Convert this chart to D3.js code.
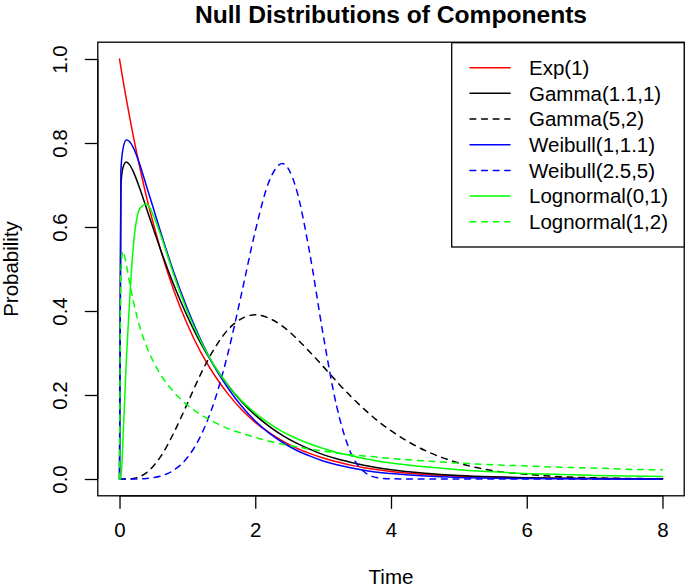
<!DOCTYPE html>
<html>
<head>
<meta charset="utf-8">
<script src="https://cdn.jsdelivr.net/npm/d3@7"></script>
<style>
html,body{margin:0;padding:0;background:#fff;}
svg text{font-family:"Liberation Sans",Arial,Helvetica,sans-serif;fill:#000;}
</style>
</head>
<body>
<svg id="chart" width="685" height="587"></svg>
<script>
// ---- data ----
const xValues      = [0, 0.02, 0.05, 0.1, 0.15, 0.2, 0.3, 0.4, 0.5, 0.6, 0.8, 1.0, 1.2, 1.4, 1.6, 1.8, 2.0, 2.2, 2.4, 2.6, 2.8, 3.0, 3.2, 3.4, 3.6, 3.8, 4.0, 4.5, 5.0, 5.5, 6.0, 6.5, 7.0, 7.5, 8.0];
const expVals      = [1.000, 0.980, 0.951, 0.905, 0.861, 0.819, 0.741, 0.670, 0.607, 0.549, 0.449, 0.368, 0.301, 0.247, 0.202, 0.165, 0.135, 0.111, 0.091, 0.074, 0.061, 0.050, 0.041, 0.033, 0.027, 0.022, 0.018, 0.011, 0.0067, 0.0041, 0.0025, 0.0015, 0.0009, 0.0006, 0.0003];
const gammaVals    = [0, 0.697, 0.741, 0.755, 0.748, 0.733, 0.691, 0.643, 0.595, 0.548, 0.462, 0.387, 0.322, 0.268, 0.223, 0.184, 0.152, 0.126, 0.104, 0.086, 0.071, 0.058, 0.048, 0.040, 0.033, 0.027, 0.022, 0.0136, 0.0083, 0.0051, 0.0031, 0.0019, 0.0012, 0.0007, 0.0004];
const gamma52Vals  = [0, 0, 0, 0.0001, 0.0004, 0.0014, 0.0059, 0.0153, 0.031, 0.052, 0.110, 0.180, 0.251, 0.311, 0.356, 0.382, 0.391, 0.383, 0.364, 0.336, 0.303, 0.268, 0.232, 0.198, 0.167, 0.139, 0.115, 0.068, 0.038, 0.020, 0.011, 0.0054, 0.0027, 0.0013, 0.0006];
const weibullVals  = [0, 0.734, 0.785, 0.807, 0.803, 0.790, 0.748, 0.696, 0.644, 0.591, 0.492, 0.405, 0.330, 0.267, 0.216, 0.173, 0.138, 0.110, 0.0875, 0.069, 0.055, 0.043, 0.034, 0.027, 0.021, 0.016, 0.013, 0.0069, 0.0036, 0.0019, 0.0010, 0.0005, 0.0003, 0.0001, 0.0001];
const weibull2Vals = [0, 0, 0, 0, 0, 0.0001, 0.0003, 0.0013, 0.0032, 0.0066, 0.021, 0.051, 0.104, 0.186, 0.301, 0.443, 0.590, 0.707, 0.751, 0.693, 0.540, 0.344, 0.173, 0.065, 0.018, 0.0032, 0.0004, 0, 0, 0, 0, 0, 0, 0, 0];
const lnorm01Vals  = [0, 0, 0.089, 0.282, 0.430, 0.547, 0.644, 0.655, 0.627, 0.584, 0.486, 0.399, 0.327, 0.269, 0.223, 0.186, 0.157, 0.133, 0.113, 0.097, 0.084, 0.073, 0.063, 0.056, 0.049, 0.043, 0.038, 0.029, 0.022, 0.017, 0.013, 0.011, 0.0086, 0.0070, 0.0057];
const lnorm12Vals  = [0, 0.489, 0.542, 0.510, 0.466, 0.426, 0.362, 0.315, 0.279, 0.250, 0.207, 0.176, 0.153, 0.135, 0.120, 0.109, 0.099, 0.090, 0.083, 0.077, 0.071, 0.067, 0.062, 0.058, 0.055, 0.052, 0.049, 0.043, 0.038, 0.034, 0.031, 0.028, 0.026, 0.023, 0.022];

const seriesNames  = ["Exp(1)", "Gamma(1.1,1)", "Gamma(5,2)", "Weibull(1,1.1)", "Weibull(2.5,5)", "Lognormal(0,1)", "Lognormal(1,2)"];
const seriesValues = [expVals, gammaVals, gamma52Vals, weibullVals, weibull2Vals, lnorm01Vals, lnorm12Vals];
const seriesColors = ["#FF0000", "#000000", "#000000", "#0000FF", "#0000FF", "#00FF00", "#00FF00"];
const seriesDashed = [false, false, true, false, true, false, true];

const xTicks = [0, 2, 4, 6, 8];
const yTicks = [0, 0.2, 0.4, 0.6, 0.8, 1.0];
const yTickLabels = ["0.0", "0.2", "0.4", "0.6", "0.8", "1.0"];

// ---- layout ----
const svg = d3.select("#chart");
const box = {left: 97.8, right: 684.2, top: 42.2, bottom: 495.8};
const x = d3.scaleLinear().domain([-0.32, 8.32]).range([box.left, box.right]);
const y = d3.scaleLinear().domain([-0.04, 1.04]).range([box.bottom, box.top]);
const fs = 20.5;
const lw = 1.5;

// curves
const line = d3.line()
  .x((d, i) => x(xValues[i]))
  .y(d => y(d))
  .curve(d3.curveMonotoneX);

seriesValues.forEach((vals, k) => {
  svg.append("path")
    .attr("d", line(vals))
    .attr("fill", "none")
    .attr("stroke", seriesColors[k])
    .attr("stroke-width", lw)
    .attr("stroke-linecap", "round")
    .attr("stroke-linejoin", "round")
    .attr("stroke-dasharray", seriesDashed[k] ? "5.8,5.8" : null);
});

// plot box
svg.append("rect")
  .attr("x", box.left).attr("y", box.top)
  .attr("width", box.right - box.left).attr("height", box.bottom - box.top)
  .attr("fill", "none").attr("stroke", "#000").attr("stroke-width", 1.3);

// x axis
const xAxis = d3.axisBottom(x).tickValues(xTicks).tickSize(13).tickPadding(14).tickFormat(d3.format("d"));
const gx = svg.append("g").attr("transform", `translate(0,${box.bottom})`).call(xAxis);
gx.select(".domain").attr("d", `M${x(0)},0H${x(8)}`).attr("stroke-width", 1.3);
gx.selectAll(".tick line").attr("stroke-width", 1.3);
gx.selectAll(".tick text").attr("font-size", fs).attr("font-family", "Liberation Sans, Arial, sans-serif");

// y axis
const yAxis = d3.axisLeft(y).tickValues(yTicks).tickSize(13).tickFormat((d, i) => yTickLabels[i]);
const gy = svg.append("g").attr("transform", `translate(${box.left},0)`).call(yAxis);
gy.select(".domain").attr("d", `M0,${y(0)}V${y(1)}`).attr("stroke-width", 1.3);
gy.selectAll(".tick line").attr("stroke-width", 1.3);
gy.selectAll(".tick text")
  .attr("font-size", fs)
  .attr("font-family", "Liberation Sans, Arial, sans-serif")
  .attr("x", null).attr("dy", null)
  .attr("text-anchor", "middle")
  .attr("transform", "translate(-30.5,0) rotate(-90)");

// title and axis labels
svg.append("text").attr("x", (box.left + box.right) / 2).attr("y", 23)
  .attr("text-anchor", "middle").attr("font-size", 24.6).attr("font-weight", "bold")
  .text("Null Distributions of Components");
svg.append("text").attr("x", (box.left + box.right) / 2).attr("y", 584)
  .attr("text-anchor", "middle").attr("font-size", fs).text("Time");
svg.append("text").attr("transform", `translate(18,${(box.top + box.bottom) / 2}) rotate(-90)`)
  .attr("text-anchor", "middle").attr("font-size", fs).text("Probability");

// legend
const leg = {left: 451.7, top: 42.7, bottom: 247, row0: 67.7, step: 25.67};
svg.append("rect")
  .attr("x", leg.left).attr("y", leg.top)
  .attr("width", box.right - leg.left).attr("height", leg.bottom - leg.top)
  .attr("fill", "#fff").attr("stroke", "#000").attr("stroke-width", 1.3);
seriesNames.forEach((name, k) => {
  const yy = leg.row0 + k * leg.step;
  svg.append("line")
    .attr("x1", 470).attr("x2", 510).attr("y1", yy).attr("y2", yy)
    .attr("stroke", seriesColors[k]).attr("stroke-width", lw)
    .attr("stroke-linecap", "round")
    .attr("stroke-dasharray", seriesDashed[k] ? "5.8,5.8" : null);
  svg.append("text").attr("x", 529).attr("y", yy + 7.3)
    .attr("font-size", fs).text(name);
});
</script>
</body>
</html>
